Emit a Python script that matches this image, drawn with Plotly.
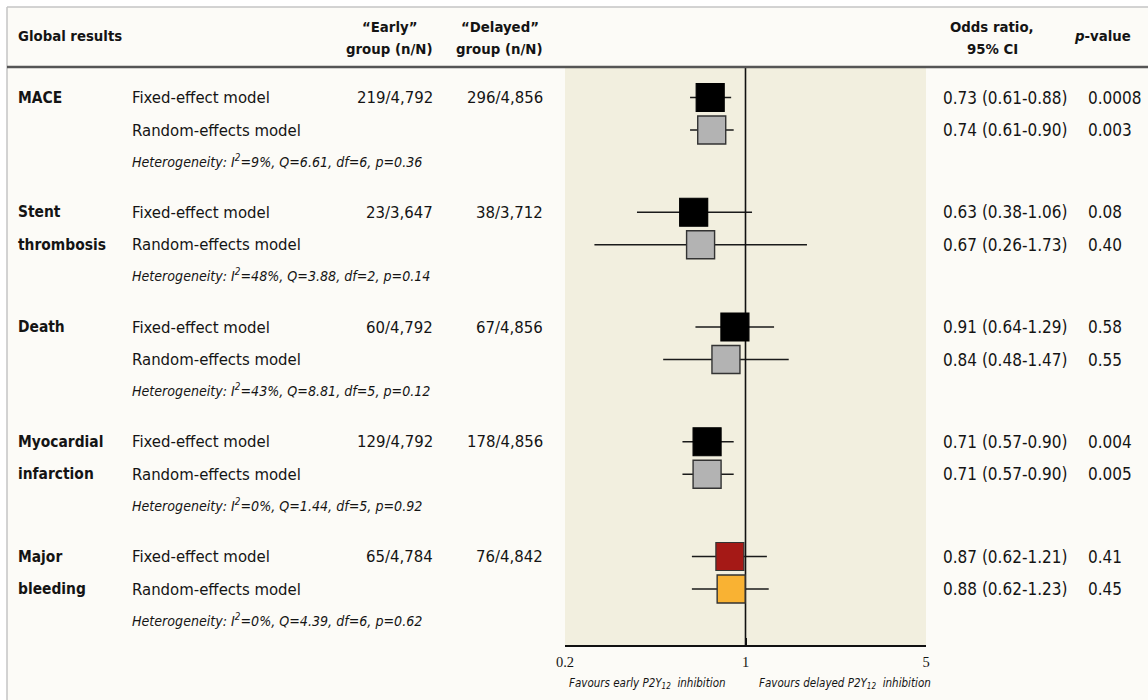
import math
import plotly.graph_objects as go

# ---------------- data ----------------
label_line1 = ["MACE", "Stent", "Death", "Myocardial", "Major"]
label_line2 = ["", "thrombosis", "", "infarction", "bleeding"]
early_n = ["219/4,792", "23/3,647", "60/4,792", "129/4,792", "65/4,784"]
delayed_n = ["296/4,856", "38/3,712", "67/4,856", "178/4,856", "76/4,842"]

fixed_or = [0.73, 0.63, 0.91, 0.71, 0.87]
fixed_lo = [0.61, 0.38, 0.64, 0.57, 0.62]
fixed_hi = [0.88, 1.06, 1.29, 0.90, 1.21]
fixed_p = ["0.0008", "0.08", "0.58", "0.004", "0.41"]

random_or = [0.74, 0.67, 0.84, 0.71, 0.88]
random_lo = [0.61, 0.26, 0.48, 0.57, 0.62]
random_hi = [0.90, 1.73, 1.47, 0.90, 1.23]
random_p = ["0.003", "0.40", "0.55", "0.005", "0.45"]

het_i2 = ["9%", "48%", "43%", "0%", "0%"]
het_q = ["6.61", "3.88", "8.81", "1.44", "4.39"]
het_df = ["6", "2", "5", "5", "6"]
het_p = ["0.36", "0.14", "0.12", "0.92", "0.62"]

fixed_colors = ["#000000", "#000000", "#000000", "#000000", "#a51916"]
random_colors = ["#b3b3b3", "#b3b3b3", "#b3b3b3", "#b3b3b3", "#f9b233"]

tick_vals = [0.2, 1, 5]
tick_text = ["0.2", "1", "5"]

# ---------------- layout constants ----------------
W, H = 1148, 700
SANS = "DejaVu Sans Condensed, Liberation Sans Narrow, sans-serif"
SERIF = "Liberation Serif, Times New Roman, serif"
TXT = "#141414"
GROUP_TOP, GROUP_STEP, RAND_OFF, HET_OFF = 97.5, 114.75, 32.5, 63
HEADER_Y = 67
AXIS_Y = 646
PLOT_X0, PLOT_X1 = 565, 926
F_MAIN, F_OR, F_HET, F_HEAD, F_LAB, F_FAV = 16.6, 17, 14.1, 14.8, 15.4, 11.5


def fy(i):
    return GROUP_TOP + GROUP_STEP * i


def ry(i):
    return fy(i) + RAND_OFF


def hy(i):
    return fy(i) + HET_OFF


fig = go.Figure()

# CI whiskers
wx, wy = [], []
for i in range(len(fixed_or)):
    wx += [fixed_lo[i], fixed_hi[i], None, random_lo[i], random_hi[i], None]
    wy += [fy(i), fy(i), None, ry(i), ry(i), None]
fig.add_trace(go.Scatter(x=wx, y=wy, mode="lines",
                         line=dict(color="#1a1a1a", width=1.6),
                         hoverinfo="skip", showlegend=False))

# line of no effect
fig.add_trace(go.Scatter(x=[1, 1], y=[HEADER_Y, AXIS_Y], mode="lines",
                         line=dict(color="#111111", width=1.6),
                         hoverinfo="skip", showlegend=False))

# squares
fig.add_trace(go.Scatter(
    x=fixed_or, y=[fy(i) for i in range(len(fixed_or))], mode="markers",
    marker=dict(symbol="square", size=28, color=fixed_colors,
                line=dict(color=["#000000"] * 4 + ["#333333"], width=1.2)),
    hoverinfo="skip", showlegend=False))
fig.add_trace(go.Scatter(
    x=random_or, y=[ry(i) for i in range(len(random_or))], mode="markers",
    marker=dict(symbol="square", size=28, color=random_colors,
                line=dict(color="#333333", width=1.4)),
    hoverinfo="skip", showlegend=False))

annotations = []


def txt(x, y, s, size=F_MAIN, xanchor="left", family=SANS, color=TXT):
    annotations.append(dict(
        x=x / W, xref="paper", y=y, yref="y", text=s, showarrow=False,
        xanchor=xanchor, yanchor="middle",
        align=xanchor if xanchor != "center" else "center",
        font=dict(family=family, size=size, color=color)))


# header
txt(16, 35, "<b>Global results</b>", size=F_HEAD)
txt(389, 26, "<b>“Early”</b>", size=F_HEAD, xanchor="center")
txt(435, 48, "<b>group (n/N)</b>", size=F_HEAD, xanchor="right")
txt(500, 26, "<b>“Delayed”</b>", size=F_HEAD, xanchor="center")
txt(545, 48, "<b>group (n/N)</b>", size=F_HEAD, xanchor="right")
txt(992, 26, "<b>Odds ratio,</b>", size=F_HEAD, xanchor="center")
txt(992, 48, "<b>95% CI</b>", size=F_HEAD, xanchor="center")
txt(1102, 35, "<b><i>p</i>-value</b>", size=F_HEAD, xanchor="center")

for i in range(len(fixed_or)):
    txt(16, fy(i), "<b>%s</b>" % label_line1[i], size=F_LAB)
    if label_line2[i]:
        txt(16, ry(i), "<b>%s</b>" % label_line2[i], size=F_LAB)
    txt(130, fy(i), "Fixed-effect model")
    txt(130, ry(i), "Random-effects model")
    txt(435, fy(i), early_n[i], xanchor="right")
    txt(545, fy(i), delayed_n[i], xanchor="right")
    txt(130, hy(i), "<i>Heterogeneity: I<sup>2</sup>=%s, Q=%s, df=%s, p=%s</i>"
        % (het_i2[i], het_q[i], het_df[i], het_p[i]), size=F_HET)
    txt(941, fy(i), "%.2f (%.2f-%.2f)" % (fixed_or[i], fixed_lo[i], fixed_hi[i]), size=F_OR)
    txt(941, ry(i), "%.2f (%.2f-%.2f)" % (random_or[i], random_lo[i], random_hi[i]), size=F_OR)
    txt(1086, fy(i), fixed_p[i], size=F_OR)
    txt(1086, ry(i), random_p[i], size=F_OR)

txt(647, 683, "<i>Favours early P2Y<sub>12</sub>  inhibition</i>", size=F_FAV, xanchor="center")
txt(845, 683, "<i>Favours delayed P2Y<sub>12</sub>  inhibition</i>", size=F_FAV, xanchor="center")

shapes = [
    dict(type="rect", xref="paper", yref="y", x0=7 / W, x1=1, y0=7, y1=H,
         fillcolor="#fcfbf7", line=dict(width=0), layer="below"),
    dict(type="rect", xref="x domain", yref="y", x0=0, x1=1, y0=HEADER_Y, y1=AXIS_Y,
         fillcolor="#f2efdf", line=dict(width=0), layer="below"),
    dict(type="line", xref="paper", yref="y", x0=7 / W, x1=1, y0=7, y1=7,
         line=dict(color="#c4c4c4", width=1.5)),
    dict(type="line", xref="paper", yref="y", x0=7 / W, x1=7 / W, y0=7, y1=H,
         line=dict(color="#c4c4c4", width=1.5)),
    dict(type="line", xref="paper", yref="y", x0=7 / W, x1=1, y0=HEADER_Y, y1=HEADER_Y,
         line=dict(color="#555555", width=2.5)),
]

fig.update_layout(
    width=W, height=H, margin=dict(l=0, r=0, t=0, b=0, pad=0, autoexpand=False),
    paper_bgcolor="#ffffff", plot_bgcolor="rgba(0,0,0,0)",
    showlegend=False,
    xaxis=dict(type="log", range=[math.log10(0.2), math.log10(5)],
               domain=[PLOT_X0 / W, PLOT_X1 / W], anchor="free", position=1 - AXIS_Y / H,
               automargin=False,
               showline=True, linecolor="#111111", linewidth=2,
               ticks="inside", ticklen=7, tickwidth=1.5, tickcolor="#111111",
               tickvals=tick_vals, ticktext=tick_text, ticklabelstandoff=3,
               tickfont=dict(family=SERIF, size=14.5, color=TXT),
               showgrid=False, zeroline=False, fixedrange=True),
    yaxis=dict(range=[H, 0], domain=[0, 1], visible=False, automargin=False,
               fixedrange=True),
    annotations=annotations, shapes=shapes,
)

fig.write_html("out.html", config={"displayModeBar": False},
               post_script="document.body.style.margin='0';document.body.style.overflow='hidden';")
